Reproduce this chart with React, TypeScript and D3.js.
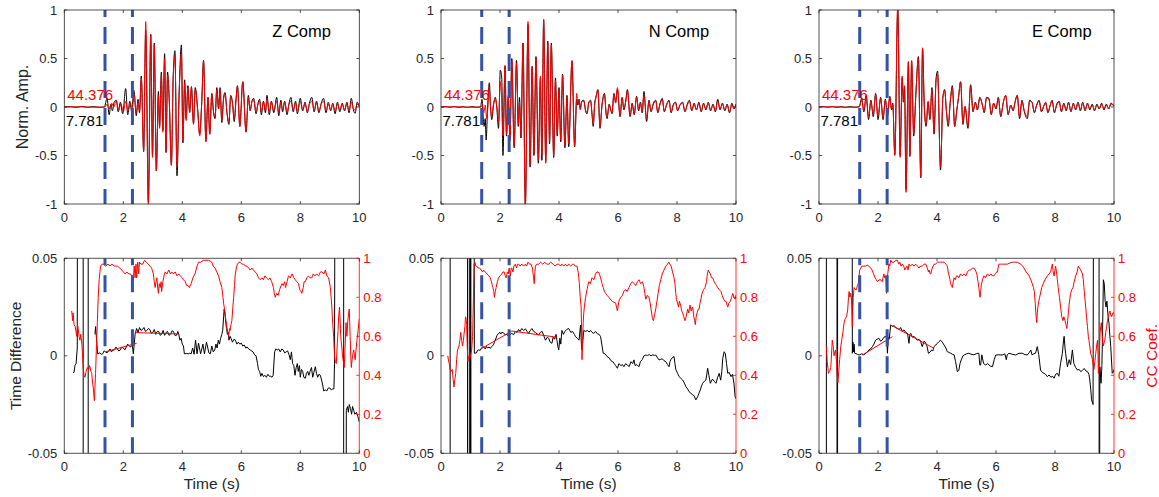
import React from "react";
import * as d3 from "d3";

type P = [number, number];

// ---------- values ----------
const timeTicks = [0, 2, 4, 6, 8, 10];
const ampTicks = [-1, -0.5, 0, 0.5, 1];
const tdTicks = [-0.05, 0, 0.05];
const ccTicks = [0, 0.2, 0.4, 0.6, 0.8, 1];
const pickTimes = [1.38, 2.31];
const compNames = ["Z Comp", "N Comp", "E Comp"];
const synMaxLabel = "44.376";
const obsMaxLabel = "7.781";

// observed (black) and synthetic (red) waveforms, turning points [t, amp]
const zObs: P[] = [[0,0],[0.2,0.004],[0.4,-0.004],[0.6,0.005],[0.8,-0.003],[1.0,0.004],[1.2,-0.004],[1.36,0.003],[1.45,0.09],[1.52,-0.08],[1.58,0.03],[1.63,-0.04],[1.69,0.05],[1.76,0.07],[1.83,-0.05],[1.9,0.05],[1.98,-0.07],[2.08,0.19],[2.15,-0.08],[2.22,0.06],[2.28,-0.04],[2.36,0.17],[2.44,-0.09],[2.5,0.08],[2.55,-0.06],[2.61,0.32],[2.69,-0.46],[2.76,0.79],[2.85,-0.98],[2.93,0.75],[2.99,-0.5],[3.05,0.66],[3.12,-0.66],[3.19,0.16],[3.23,-0.2],[3.29,0.36],[3.34,-0.24],[3.4,0.55],[3.45,-0.47],[3.5,0.36],[3.56,0.06],[3.63,-0.6],[3.69,0.3],[3.75,0.58],[3.82,-0.71],[3.89,0.12],[3.97,0.64],[4.02,-0.37],[4.08,0.28],[4.13,-0.12],[4.19,0.22],[4.25,-0.05],[4.31,0.21],[4.38,-0.17],[4.44,0.2],[4.52,-0.02],[4.59,-0.28],[4.66,0.06],[4.72,0.48],[4.8,-0.35],[4.87,0.1],[4.93,-0.28],[5.0,0.14],[5.06,-0.06],[5.11,-0.12],[5.17,0.2],[5.23,-0.02],[5.28,0.2],[5.34,-0.16],[5.4,0.1],[5.45,0.15],[5.52,-0.08],[5.58,-0.18],[5.64,0.12],[5.7,0.05],[5.76,-0.15],[5.82,0.08],[5.87,0.22],[5.95,-0.2],[6.05,0.26],[6.16,-0.26],[6.24,0.12],[6.3,-0.04],[6.36,0.06],[6.42,0.09],[6.5,-0.07],[6.56,0.03],[6.62,0.08],[6.68,-0.08],[6.75,0.06],[6.82,-0.06],[6.87,0.12],[6.95,-0.08],[7.02,0.06],[7.1,-0.06],[7.2,0.1],[7.27,-0.09],[7.34,0.07],[7.4,-0.05],[7.47,0.06],[7.55,-0.08],[7.62,0.04],[7.68,0.1],[7.76,-0.05],[7.84,0.06],[7.9,-0.07],[8.0,0.09],[8.08,-0.04],[8.16,0.05],[8.24,-0.06],[8.31,0.04],[8.39,0.1],[8.47,-0.05],[8.55,0.06],[8.63,-0.06],[8.71,0.04],[8.79,0.09],[8.87,-0.06],[8.95,0.05],[9.03,-0.04],[9.1,0.04],[9.18,-0.07],[9.26,0.05],[9.34,-0.05],[9.42,0.04],[9.5,-0.04],[9.58,0.05],[9.65,-0.06],[9.73,0.09],[9.8,-0.03],[9.86,-0.065],[9.93,0.05],[10,0.0]];
const zSyn: P[] = [[0,0],[0.5,0.002],[1.0,-0.002],[1.38,0.0],[1.45,0.03],[1.52,-0.02],[1.6,0.04],[1.68,0.0],[1.76,0.07],[1.84,-0.03],[1.92,0.03],[2.0,-0.05],[2.08,0.06],[2.16,-0.04],[2.24,0.04],[2.3,-0.03],[2.37,0.12],[2.44,-0.06],[2.5,0.05],[2.55,-0.04],[2.61,0.3],[2.69,-0.45],[2.76,0.88],[2.85,-1.03],[2.93,0.74],[2.99,-0.52],[3.05,0.64],[3.12,-0.66],[3.19,0.12],[3.23,-0.22],[3.29,0.33],[3.34,-0.26],[3.4,0.5],[3.45,-0.45],[3.5,0.33],[3.56,0.04],[3.63,-0.6],[3.69,0.28],[3.75,0.52],[3.82,-0.62],[3.89,0.1],[3.97,0.55],[4.02,-0.35],[4.08,0.25],[4.13,-0.14],[4.19,0.2],[4.25,-0.06],[4.31,0.2],[4.38,-0.18],[4.44,0.18],[4.52,-0.03],[4.59,-0.3],[4.66,0.05],[4.72,0.47],[4.8,-0.36],[4.87,0.1],[4.93,-0.28],[5.0,0.13],[5.06,-0.05],[5.11,-0.1],[5.17,0.18],[5.23,-0.02],[5.28,0.18],[5.34,-0.14],[5.4,0.08],[5.45,0.13],[5.52,-0.07],[5.58,-0.15],[5.64,0.1],[5.7,0.04],[5.76,-0.13],[5.82,0.06],[5.87,0.21],[5.95,-0.2],[6.05,0.26],[6.16,-0.25],[6.24,0.1],[6.3,-0.03],[6.36,0.05],[6.42,0.07],[6.5,-0.05],[6.56,0.02],[6.62,0.06],[6.68,-0.05],[6.75,0.05],[6.82,-0.04],[6.87,0.08],[6.95,-0.05],[7.02,0.05],[7.1,-0.04],[7.2,0.06],[7.27,-0.06],[7.34,0.05],[7.4,-0.03],[7.47,0.05],[7.55,-0.05],[7.62,0.03],[7.68,0.06],[7.76,-0.03],[7.84,0.04],[7.9,-0.04],[8.0,0.06],[8.08,-0.03],[8.16,0.03],[8.24,-0.04],[8.31,0.03],[8.39,0.06],[8.47,-0.03],[8.55,0.04],[8.63,-0.04],[8.71,0.03],[8.79,0.06],[8.87,-0.04],[8.95,0.03],[9.03,-0.03],[9.1,0.03],[9.18,-0.04],[9.26,0.03],[9.34,-0.03],[9.42,0.03],[9.5,-0.03],[9.58,0.03],[9.65,-0.04],[9.73,0.05],[9.8,-0.02],[9.86,-0.03],[9.93,0.03],[10,0.01]];

const nObs: P[] = [[0,0],[0.15,0.004],[0.3,-0.003],[0.45,0.004],[0.6,-0.004],[0.75,0.003],[0.9,-0.004],[1.05,0.004],[1.2,-0.003],[1.34,0.002],[1.39,0.08],[1.43,-0.1],[1.46,-0.2],[1.5,-0.12],[1.53,-0.34],[1.58,0.0],[1.64,0.25],[1.68,0.0],[1.72,-0.13],[1.78,0.02],[1.84,0.1],[1.89,0.0],[1.95,-0.22],[2.01,0.38],[2.06,0.3],[2.1,-0.5],[2.17,0.42],[2.22,-0.3],[2.28,0.1],[2.34,-0.32],[2.4,0.5],[2.48,-0.42],[2.56,0.48],[2.62,-0.2],[2.66,0.1],[2.71,-0.32],[2.78,0.66],[2.86,-1.0],[2.95,0.85],[3.02,-0.62],[3.09,0.42],[3.15,-0.5],[3.22,0.52],[3.3,-0.58],[3.37,0.3],[3.42,-0.55],[3.48,0.9],[3.55,-0.56],[3.62,0.68],[3.68,-0.38],[3.74,0.66],[3.82,-0.52],[3.88,0.3],[3.94,-0.3],[4.0,0.2],[4.06,-0.36],[4.12,0.34],[4.2,-0.42],[4.27,0.12],[4.33,-0.41],[4.44,0.47],[4.53,-0.41],[4.6,0.08],[4.64,0.02],[4.68,0.08],[4.72,-0.02],[4.77,0.06],[4.84,0.07],[4.9,-0.04],[4.95,-0.07],[5.01,0.05],[5.07,0.07],[5.12,-0.08],[5.16,-0.2],[5.21,0.04],[5.25,0.1],[5.32,0.18],[5.39,-0.22],[5.46,0.03],[5.54,0.14],[5.6,-0.08],[5.63,-0.12],[5.7,0.03],[5.76,-0.04],[5.8,-0.07],[5.86,0.14],[5.92,0.05],[5.98,0.18],[6.07,-0.1],[6.14,0.1],[6.2,-0.03],[6.26,0.06],[6.32,0.18],[6.41,-0.1],[6.48,0.04],[6.55,-0.08],[6.63,0.11],[6.7,-0.04],[6.76,0.05],[6.82,-0.06],[6.88,0.16],[6.97,-0.15],[7.05,0.07],[7.12,-0.05],[7.2,0.04],[7.28,0.07],[7.35,-0.06],[7.42,0.03],[7.5,0.09],[7.57,-0.05],[7.65,0.03],[7.73,0.07],[7.8,-0.06],[7.88,0.03],[7.95,0.05],[8.02,-0.04],[8.1,0.02],[8.19,0.05],[8.27,-0.05],[8.35,0.03],[8.42,0.07],[8.5,-0.04],[8.58,0.04],[8.66,-0.03],[8.74,0.05],[8.82,-0.05],[8.9,0.04],[8.98,-0.03],[9.06,0.05],[9.14,-0.04],[9.22,0.03],[9.3,-0.05],[9.38,0.08],[9.46,-0.03],[9.54,0.04],[9.62,-0.04],[9.7,0.03],[9.78,-0.06],[9.86,0.04],[9.93,-0.02],[10,0.03]];
const nSyn: P[] = [[0,0],[0.5,0.002],[1.0,-0.002],[1.36,0.0],[1.4,0.03],[1.45,-0.06],[1.5,0.02],[1.55,-0.12],[1.6,0.05],[1.63,0.2],[1.68,0.0],[1.72,-0.1],[1.78,0.03],[1.84,0.09],[1.9,-0.02],[1.95,-0.15],[2.01,0.26],[2.05,0.12],[2.1,-0.3],[2.17,0.43],[2.22,-0.28],[2.28,0.12],[2.34,-0.35],[2.4,0.48],[2.48,-0.4],[2.56,0.45],[2.62,-0.18],[2.66,0.05],[2.71,-0.3],[2.78,0.65],[2.86,-1.05],[2.95,0.88],[3.02,-0.6],[3.09,0.4],[3.15,-0.48],[3.22,0.5],[3.3,-0.55],[3.37,0.32],[3.42,-0.5],[3.48,0.9],[3.55,-0.58],[3.62,0.66],[3.68,-0.36],[3.74,0.64],[3.82,-0.5],[3.88,0.28],[3.94,-0.28],[4.0,0.18],[4.06,-0.34],[4.12,0.33],[4.2,-0.4],[4.27,0.1],[4.33,-0.38],[4.44,0.48],[4.53,-0.4],[4.6,0.14],[4.64,0.03],[4.68,0.07],[4.72,-0.03],[4.77,0.05],[4.84,0.06],[4.9,-0.03],[4.95,-0.06],[5.01,0.04],[5.07,0.06],[5.12,-0.07],[5.16,-0.18],[5.21,0.03],[5.25,0.09],[5.32,0.17],[5.39,-0.2],[5.46,0.02],[5.54,0.13],[5.6,-0.07],[5.63,-0.1],[5.7,0.02],[5.76,-0.03],[5.8,-0.06],[5.86,0.13],[5.92,0.04],[5.98,0.2],[6.07,-0.09],[6.14,0.09],[6.2,-0.02],[6.26,0.05],[6.32,0.16],[6.41,-0.09],[6.48,0.03],[6.55,-0.07],[6.63,0.1],[6.7,-0.03],[6.76,0.04],[6.82,-0.05],[6.88,0.12],[6.97,-0.12],[7.05,0.06],[7.12,-0.04],[7.2,0.03],[7.28,0.06],[7.35,-0.05],[7.42,0.02],[7.5,0.08],[7.57,-0.04],[7.65,0.02],[7.73,0.06],[7.8,-0.05],[7.88,0.02],[7.95,0.04],[8.02,-0.03],[8.1,0.02],[8.19,0.04],[8.27,-0.04],[8.35,0.02],[8.42,0.06],[8.5,-0.03],[8.58,0.03],[8.66,-0.03],[8.74,0.04],[8.82,-0.04],[8.9,0.03],[8.98,-0.02],[9.06,0.04],[9.14,-0.03],[9.22,0.02],[9.3,-0.04],[9.38,0.06],[9.46,-0.02],[9.54,0.03],[9.62,-0.03],[9.7,0.02],[9.78,-0.05],[9.86,0.03],[9.93,-0.02],[10,0.03]];

const eObs: P[] = [[0,0],[0.15,0.004],[0.3,-0.003],[0.45,0.004],[0.6,-0.004],[0.75,0.003],[0.9,-0.004],[1.05,0.004],[1.2,-0.003],[1.36,0.002],[1.45,0.09],[1.52,-0.05],[1.6,0.12],[1.68,-0.13],[1.76,0.07],[1.84,-0.1],[1.92,0.14],[2.0,-0.13],[2.09,0.1],[2.17,-0.13],[2.25,0.08],[2.32,-0.1],[2.4,0.11],[2.46,-0.03],[2.5,0.04],[2.57,-0.49],[2.67,1.02],[2.75,-0.5],[2.82,0.3],[2.86,0.05],[2.9,0.2],[2.95,-0.85],[3.03,0.46],[3.08,-0.51],[3.14,0.47],[3.21,-0.3],[3.28,0.1],[3.37,0.52],[3.45,-0.73],[3.51,0.6],[3.57,0.0],[3.63,-0.2],[3.7,0.05],[3.76,-0.13],[3.83,0.2],[3.9,-0.28],[3.97,0.3],[4.02,0.37],[4.12,-0.65],[4.2,0.1],[4.26,0.18],[4.32,-0.05],[4.38,-0.2],[4.45,0.05],[4.52,0.22],[4.6,-0.2],[4.67,-0.04],[4.73,0.1],[4.8,0.26],[4.88,-0.18],[4.95,0.0],[5.05,-0.22],[5.14,0.23],[5.22,-0.05],[5.3,0.05],[5.37,-0.03],[5.45,0.1],[5.54,0.02],[5.6,-0.06],[5.68,0.1],[5.76,0.09],[5.84,-0.08],[5.92,0.04],[6.0,-0.02],[6.08,0.1],[6.16,-0.1],[6.25,0.05],[6.33,0.12],[6.41,-0.08],[6.5,0.02],[6.58,-0.04],[6.65,0.06],[6.72,0.12],[6.8,-0.12],[6.88,0.07],[6.96,-0.05],[7.06,-0.12],[7.14,0.07],[7.22,0.05],[7.3,-0.06],[7.38,0.02],[7.46,0.07],[7.54,-0.05],[7.62,0.01],[7.68,0.05],[7.76,-0.06],[7.84,0.02],[7.9,0.07],[7.98,-0.06],[8.06,0.03],[8.14,0.06],[8.22,-0.05],[8.3,0.04],[8.38,-0.04],[8.46,0.05],[8.54,-0.05],[8.62,0.04],[8.7,-0.03],[8.78,0.05],[8.86,-0.04],[8.94,0.05],[9.02,-0.04],[9.1,0.04],[9.18,-0.03],[9.26,0.03],[9.34,-0.04],[9.42,0.03],[9.5,-0.02],[9.58,0.04],[9.66,-0.03],[9.74,0.03],[9.82,-0.02],[9.9,0.04],[10,0.01]];
const eSyn: P[] = [[0,0],[0.5,0.002],[1.0,-0.002],[1.36,0.0],[1.45,0.07],[1.52,-0.04],[1.6,0.1],[1.68,-0.1],[1.76,0.06],[1.84,-0.08],[1.92,0.12],[2.0,-0.1],[2.09,0.09],[2.17,-0.11],[2.25,0.07],[2.32,-0.08],[2.4,0.1],[2.46,-0.02],[2.5,0.03],[2.57,-0.5],[2.67,1.05],[2.75,-0.52],[2.82,0.32],[2.86,0.06],[2.9,0.22],[2.95,-0.88],[3.03,0.47],[3.08,-0.5],[3.14,0.48],[3.21,-0.28],[3.28,0.12],[3.37,0.5],[3.45,-0.72],[3.51,0.61],[3.57,0.02],[3.63,-0.18],[3.7,0.06],[3.76,-0.12],[3.83,0.18],[3.9,-0.26],[3.97,0.28],[4.02,0.33],[4.12,-0.62],[4.2,0.1],[4.26,0.17],[4.32,-0.04],[4.38,-0.18],[4.45,0.06],[4.52,0.2],[4.6,-0.2],[4.67,-0.03],[4.73,0.1],[4.8,0.26],[4.88,-0.17],[4.95,0.01],[5.05,-0.2],[5.14,0.22],[5.22,-0.04],[5.3,0.04],[5.37,-0.03],[5.45,0.09],[5.54,0.02],[5.6,-0.05],[5.68,0.09],[5.76,0.08],[5.84,-0.07],[5.92,0.04],[6.0,-0.02],[6.08,0.09],[6.16,-0.09],[6.25,0.05],[6.33,0.12],[6.41,-0.07],[6.5,0.02],[6.58,-0.03],[6.65,0.05],[6.72,0.12],[6.8,-0.1],[6.88,0.06],[6.96,-0.04],[7.06,-0.1],[7.14,0.06],[7.22,0.05],[7.3,-0.05],[7.38,0.02],[7.46,0.06],[7.54,-0.04],[7.62,0.01],[7.68,0.04],[7.76,-0.05],[7.84,0.02],[7.9,0.06],[7.98,-0.05],[8.06,0.02],[8.14,0.05],[8.22,-0.04],[8.3,0.03],[8.38,-0.03],[8.46,0.04],[8.54,-0.04],[8.62,0.03],[8.7,-0.02],[8.78,0.04],[8.86,-0.03],[8.94,0.04],[9.02,-0.03],[9.1,0.03],[9.18,-0.02],[9.26,0.02],[9.34,-0.03],[9.42,0.02],[9.5,-0.02],[9.58,0.03],[9.66,-0.02],[9.74,0.02],[9.82,-0.02],[9.9,0.03],[10,0.01]];

// time difference (black, left axis); NaN breaks the line, |v| > 0.05 runs off the axes
const zTd: P[] = [[0.3,-0.0086],[0.33,-0.0085],[0.36,-0.005],[0.4,-0.004],[0.44,0.004],[0.45,0.2],[0.64,0.2],[0.64,-0.2],[0.81,-0.2],[0.81,0.2],[0.82,NaN],[1.04,0.011],[1.06,0.015],[1.09,0.009],[1.13,0.001],[1.2,0.0015],[1.25,0.0008],[1.3,0.001],[1.35,0.0025],[1.4,0.002],[1.45,0.0015],[1.5,0.0025],[1.55,0.0035],[1.6,0.002],[1.65,0.003],[1.7,0.003],[1.75,0.0045],[1.8,0.0035],[1.85,0.0025],[1.9,0.003],[1.95,0.0045],[2.0,0.004],[2.05,0.003],[2.1,0.0045],[2.15,0.006],[2.2,0.005],[2.25,0.0045],[2.3,0.006],[2.34,0.001],[2.37,0.006],[2.4,0.011],[2.45,0.014],[2.5,0.012],[2.55,0.0145],[2.6,0.013],[2.65,0.0135],[2.7,0.0145],[2.75,0.0125],[2.8,0.013],[2.85,0.014],[2.9,0.0135],[2.95,0.0115],[3.0,0.012],[3.05,0.0135],[3.1,0.011],[3.15,0.0125],[3.2,0.0125],[3.25,0.0105],[3.3,0.011],[3.35,0.013],[3.4,0.0105],[3.45,0.012],[3.5,0.0125],[3.55,0.0105],[3.6,0.011],[3.65,0.0128],[3.7,0.0125],[3.75,0.0105],[3.8,0.0105],[3.85,0.0125],[3.88,0.011],[3.92,0.008],[3.96,0.009],[4.0,0.006],[4.04,0.005],[4.07,0.001],[4.15,0.0012],[4.2,0.001],[4.25,0.0013],[4.3,0.001],[4.35,0.004],[4.4,0.0008],[4.45,0.008],[4.5,0.001],[4.55,0.0065],[4.62,0.001],[4.67,0.004],[4.7,0.006],[4.75,0.001],[4.82,0.007],[4.9,0.0015],[4.95,0.001],[5.0,0.005],[5.05,0.002],[5.1,0.003],[5.14,0.006],[5.18,0.004],[5.22,0.008],[5.26,0.006],[5.3,0.009],[5.34,0.011],[5.37,0.013],[5.4,0.02],[5.42,0.024],[5.45,0.021],[5.48,0.016],[5.5,0.014],[5.53,0.011],[5.56,0.012],[5.58,0.008],[5.62,0.01],[5.65,0.009],[5.7,0.007],[5.75,0.0085],[5.8,0.008],[5.85,0.006],[5.9,0.007],[5.95,0.006],[6.0,0.0065],[6.05,0.005],[6.1,0.0055],[6.15,0.004],[6.2,0.0045],[6.25,0.0035],[6.3,0.003],[6.35,0.0025],[6.4,0.002],[6.45,0.0005],[6.5,0.0],[6.55,-0.004],[6.58,-0.007],[6.62,-0.008],[6.66,-0.0105],[6.7,-0.009],[6.75,-0.0107],[6.8,-0.01],[6.85,-0.011],[6.9,-0.0095],[6.95,-0.0105],[7.0,-0.0105],[7.04,-0.011],[7.08,-0.01],[7.13,0.002],[7.17,0.0035],[7.22,0.003],[7.27,0.0035],[7.32,0.002],[7.37,0.0035],[7.42,0.003],[7.47,0.0015],[7.52,0.002],[7.57,0.0025],[7.62,0.0005],[7.66,-0.002],[7.7,0.002],[7.74,-0.004],[7.78,-0.005],[7.82,-0.01],[7.86,-0.006],[7.9,-0.004],[7.93,-0.008],[7.97,-0.005],[8.0,-0.011],[8.04,-0.007],[8.08,-0.008],[8.12,-0.011],[8.17,-0.0115],[8.21,-0.009],[8.25,-0.008],[8.29,-0.01],[8.33,-0.008],[8.38,-0.006],[8.42,-0.011],[8.46,-0.0085],[8.51,-0.0056],[8.55,-0.009],[8.59,-0.011],[8.63,-0.0095],[8.68,-0.01],[8.73,-0.013],[8.76,-0.015],[8.79,-0.018],[8.84,-0.0175],[8.9,-0.018],[8.95,-0.0165],[9.0,-0.0165],[9.05,-0.0175],[9.1,-0.017],[9.14,-0.017],[9.16,-0.004],[9.19,0.2],[9.47,0.2],[9.47,-0.2],[9.55,-0.2],[9.56,-0.028],[9.6,-0.026],[9.63,-0.029],[9.66,-0.025],[9.7,-0.027],[9.74,-0.03],[9.77,-0.026],[9.81,-0.028],[9.85,-0.03],[9.9,-0.029],[9.95,-0.031],[10,-0.034]];
const nTd: P[] = [[0.31,-0.2],[0.31,0.2],[0.32,NaN],[0.9,-0.2],[0.9,0.2],[0.91,NaN],[0.96,-0.2],[0.96,0.2],[0.97,NaN],[1.0,-0.2],[1.0,0.2],[1.01,-0.2],[1.01,0.2],[1.12,0.2],[1.13,0.0013],[1.2,0.0015],[1.24,0.0028],[1.28,0.003],[1.33,0.0028],[1.37,0.004],[1.4,0.0045],[1.44,0.0047],[1.5,0.0035],[1.54,0.0048],[1.58,0.004],[1.63,0.0045],[1.67,0.0038],[1.72,0.0048],[1.78,0.0056],[1.81,0.007],[1.84,0.008],[1.9,0.0105],[1.95,0.0115],[2.0,0.012],[2.03,0.0112],[2.06,0.012],[2.12,0.0118],[2.18,0.0107],[2.24,0.011],[2.29,0.0098],[2.35,0.011],[2.4,0.0115],[2.46,0.0108],[2.52,0.0124],[2.58,0.012],[2.63,0.0135],[2.68,0.0125],[2.74,0.014],[2.8,0.013],[2.86,0.0138],[2.92,0.0125],[2.97,0.0115],[3.02,0.0128],[3.08,0.014],[3.14,0.0125],[3.2,0.012],[3.26,0.0112],[3.31,0.0107],[3.37,0.012],[3.43,0.0125],[3.48,0.0105],[3.54,0.008],[3.6,0.0095],[3.65,0.009],[3.7,0.007],[3.76,0.0064],[3.8,0.0095],[3.85,0.0085],[3.9,0.011],[3.93,0.008],[3.96,0.005],[3.99,0.003],[4.03,0.009],[4.06,0.006],[4.1,0.013],[4.15,0.011],[4.2,0.0125],[4.26,0.0135],[4.33,0.014],[4.4,0.012],[4.46,0.0125],[4.52,0.011],[4.56,0.0098],[4.62,0.009],[4.68,0.008],[4.73,0.0158],[4.76,0.006],[4.78,0.003],[4.81,0.008],[4.84,0.013],[4.9,0.0125],[4.96,0.013],[5.02,0.0122],[5.07,0.013],[5.12,0.012],[5.18,0.0115],[5.24,0.0125],[5.3,0.0113],[5.36,0.011],[5.41,0.0098],[5.46,0.005],[5.5,0.0013],[5.56,0.001],[5.63,-0.0004],[5.7,-0.001],[5.76,-0.0025],[5.82,-0.003],[5.86,-0.0038],[5.92,-0.005],[5.98,-0.0064],[6.03,-0.004],[6.1,-0.005],[6.15,-0.0045],[6.2,-0.0056],[6.26,-0.004],[6.32,-0.0048],[6.38,-0.0055],[6.44,-0.003],[6.5,-0.004],[6.54,-0.0021],[6.58,-0.005],[6.64,-0.0045],[6.71,-0.0056],[6.76,-0.003],[6.82,-0.002],[6.88,0.0],[6.94,0.0004],[7.0,0.0002],[7.06,0.0006],[7.12,0.0],[7.18,0.0005],[7.24,0.0002],[7.28,0.0004],[7.34,-0.001],[7.39,-0.0021],[7.45,-0.0018],[7.5,-0.0015],[7.56,-0.0025],[7.62,-0.003],[7.68,-0.0045],[7.73,-0.0056],[7.76,-0.003],[7.79,-0.002],[7.84,-0.001],[7.9,-0.0004],[7.93,-0.004],[7.96,-0.007],[8.02,-0.009],[8.07,-0.0107],[8.13,-0.0115],[8.19,-0.0124],[8.25,-0.014],[8.3,-0.0158],[8.36,-0.017],[8.41,-0.0184],[8.47,-0.0192],[8.53,-0.02],[8.58,-0.0205],[8.64,-0.0226],[8.7,-0.021],[8.75,-0.019],[8.79,-0.0175],[8.83,-0.0155],[8.87,-0.0141],[8.93,-0.013],[8.98,-0.0124],[9.04,-0.0064],[9.08,-0.01],[9.13,-0.0141],[9.2,-0.012],[9.26,-0.013],[9.32,-0.0141],[9.38,-0.011],[9.43,-0.009],[9.48,-0.0125],[9.52,-0.008],[9.55,-0.0013],[9.6,0.0021],[9.64,0.001],[9.68,-0.004],[9.72,-0.009],[9.77,-0.0085],[9.83,-0.0107],[9.88,-0.0095],[9.93,-0.014],[9.97,-0.021],[10,-0.022]];
const eTd: P[] = [[0.25,-0.2],[0.25,0.2],[0.26,NaN],[0.61,-0.2],[0.61,0.2],[0.63,0.2],[0.63,-0.2],[0.64,NaN],[1.12,0.2],[1.13,0.0013],[1.15,0.007],[1.17,0.002],[1.19,0.006],[1.21,0.0013],[1.3,0.0008],[1.36,0.0004],[1.45,0.001],[1.52,0.0005],[1.58,0.0013],[1.64,0.002],[1.69,0.003],[1.75,0.0035],[1.81,0.0047],[1.86,0.006],[1.92,0.008],[1.97,0.0085],[2.03,0.009],[2.09,0.0075],[2.14,0.008],[2.2,0.0095],[2.26,0.01],[2.29,0.009],[2.32,0.0013],[2.35,0.0095],[2.38,0.0085],[2.43,0.0158],[2.5,0.015],[2.55,0.0155],[2.6,0.0145],[2.66,0.014],[2.72,0.0135],[2.77,0.0145],[2.82,0.0125],[2.88,0.0133],[2.94,0.012],[3.0,0.0115],[3.05,0.0064],[3.08,0.011],[3.11,0.0115],[3.17,0.0095],[3.22,0.01],[3.28,0.009],[3.33,0.008],[3.39,0.0085],[3.44,0.0075],[3.5,0.0047],[3.56,0.0075],[3.6,0.007],[3.66,0.005],[3.71,0.0013],[3.76,0.0018],[3.82,0.003],[3.86,0.0025],[3.9,0.0047],[3.96,0.0055],[4.01,0.0064],[4.06,0.0072],[4.12,0.008],[4.18,0.007],[4.24,0.0055],[4.3,0.004],[4.35,0.0021],[4.4,0.0018],[4.46,0.0013],[4.52,0.0008],[4.58,0.0005],[4.63,-0.003],[4.69,-0.0081],[4.74,-0.0075],[4.78,-0.004],[4.82,-0.0021],[4.88,0.0],[4.92,0.0004],[5.0,0.001],[5.08,0.0013],[5.15,0.0008],[5.25,0.0005],[5.35,0.0012],[5.42,0.0013],[5.45,-0.0047],[5.48,-0.0047],[5.52,0.0005],[5.58,-0.004],[5.65,-0.0047],[5.72,-0.004],[5.8,-0.0052],[5.88,-0.0056],[5.94,-0.002],[5.99,0.0004],[6.1,0.0005],[6.21,0.0004],[6.3,0.001],[6.35,-0.002],[6.38,0.0005],[6.44,0.0013],[6.55,0.0008],[6.67,0.0004],[6.78,0.0013],[6.89,0.0013],[6.98,0.0006],[7.06,0.0004],[7.12,0.0015],[7.18,0.003],[7.22,0.0005],[7.28,0.001],[7.34,0.0013],[7.4,0.0047],[7.45,0.0005],[7.51,-0.0073],[7.57,-0.0085],[7.63,-0.009],[7.68,-0.0095],[7.74,-0.0107],[7.8,-0.0098],[7.86,-0.011],[7.92,-0.0105],[7.97,-0.0115],[8.02,-0.0095],[8.08,-0.009],[8.13,-0.0105],[8.19,-0.0038],[8.25,0.0013],[8.29,0.008],[8.31,0.01],[8.34,0.004],[8.36,0.0013],[8.42,-0.0056],[8.48,-0.002],[8.53,-0.0045],[8.59,0.003],[8.64,-0.004],[8.7,-0.006],[8.76,-0.0073],[8.82,-0.007],[8.87,-0.0081],[8.93,-0.0075],[8.99,-0.0065],[9.05,-0.0078],[9.1,-0.0081],[9.15,-0.0095],[9.18,-0.0124],[9.21,-0.017],[9.24,-0.0226],[9.29,-0.025],[9.32,0.2],[9.49,0.2],[9.5,-0.2],[9.52,-0.0056],[9.56,-0.0141],[9.59,-0.005],[9.61,0.01],[9.64,0.039],[9.67,0.037],[9.7,0.028],[9.73,0.025],[9.76,0.028],[9.8,0.02],[9.83,0.0167],[9.86,0.01],[9.89,0.0047],[9.94,-0.009],[9.97,-0.0085],[10,-0.007]];

// cross-correlation coefficient (red, right axis)
const zCc: P[] = [[0.25,0.73],[0.27,0.7],[0.28,0.68],[0.3,0.72],[0.33,0.66],[0.37,0.65],[0.4,0.62],[0.42,0.6],[0.45,0.66],[0.47,0.64],[0.5,0.6],[0.53,0.58],[0.56,0.61],[0.6,0.55],[0.64,0.44],[0.67,0.4],[0.7,0.39],[0.74,0.42],[0.78,0.44],[0.82,0.43],[0.86,0.45],[0.9,0.42],[0.93,0.41],[0.96,0.36],[0.98,0.34],[1.02,0.27],[1.06,0.41],[1.09,0.55],[1.12,0.67],[1.15,0.8],[1.18,0.89],[1.23,0.96],[1.28,0.97],[1.32,0.97],[1.4,0.96],[1.48,0.97],[1.55,0.96],[1.61,0.97],[1.7,0.96],[1.8,0.96],[1.88,0.95],[1.95,0.94],[2.0,0.93],[2.06,0.92],[2.12,0.93],[2.18,0.92],[2.24,0.92],[2.28,0.91],[2.31,0.88],[2.34,0.89],[2.37,0.96],[2.4,0.9],[2.43,0.97],[2.45,0.9],[2.49,0.98],[2.52,0.92],[2.55,0.98],[2.6,0.97],[2.66,0.97],[2.72,0.99],[2.78,0.98],[2.85,0.97],[2.9,0.96],[2.96,0.95],[3.02,0.92],[3.05,0.88],[3.08,0.85],[3.11,0.88],[3.14,0.9],[3.17,0.84],[3.19,0.82],[3.22,0.87],[3.25,0.85],[3.28,0.88],[3.3,0.83],[3.34,0.88],[3.38,0.91],[3.42,0.93],[3.48,0.92],[3.54,0.94],[3.6,0.92],[3.64,0.93],[3.7,0.92],[3.76,0.93],[3.82,0.91],[3.88,0.92],[3.93,0.91],[4.0,0.9],[4.04,0.89],[4.1,0.88],[4.15,0.86],[4.2,0.86],[4.24,0.85],[4.3,0.87],[4.36,0.9],[4.43,0.92],[4.5,0.96],[4.55,0.98],[4.62,0.98],[4.72,0.99],[4.8,0.99],[4.89,0.99],[4.95,0.985],[5.0,0.98],[5.05,0.96],[5.11,0.95],[5.17,0.93],[5.23,0.91],[5.28,0.88],[5.34,0.85],[5.38,0.8],[5.4,0.77],[5.45,0.72],[5.48,0.68],[5.51,0.65],[5.54,0.62],[5.57,0.6],[5.6,0.64],[5.62,0.63],[5.65,0.66],[5.68,0.68],[5.71,0.74],[5.74,0.8],[5.77,0.86],[5.79,0.91],[5.83,0.95],[5.87,0.97],[5.92,0.98],[5.96,0.98],[6.02,0.97],[6.08,0.97],[6.14,0.96],[6.19,0.96],[6.25,0.95],[6.3,0.94],[6.36,0.95],[6.41,0.94],[6.47,0.93],[6.53,0.92],[6.58,0.9],[6.64,0.89],[6.7,0.9],[6.75,0.89],[6.8,0.91],[6.85,0.9],[6.92,0.89],[6.97,0.9],[7.03,0.88],[7.09,0.85],[7.12,0.82],[7.15,0.8],[7.2,0.82],[7.25,0.81],[7.3,0.84],[7.35,0.86],[7.38,0.87],[7.42,0.86],[7.47,0.88],[7.5,0.85],[7.55,0.88],[7.6,0.91],[7.66,0.9],[7.72,0.92],[7.78,0.9],[7.83,0.89],[7.88,0.88],[7.94,0.87],[7.98,0.84],[8.02,0.83],[8.05,0.82],[8.1,0.85],[8.13,0.88],[8.17,0.88],[8.22,0.9],[8.28,0.91],[8.33,0.9],[8.39,0.9],[8.44,0.92],[8.5,0.91],[8.55,0.92],[8.62,0.91],[8.68,0.93],[8.73,0.93],[8.8,0.92],[8.85,0.94],[8.9,0.91],[8.96,0.9],[9.02,0.85],[9.07,0.75],[9.1,0.66],[9.13,0.6],[9.16,0.5],[9.19,0.47],[9.22,0.46],[9.25,0.55],[9.28,0.63],[9.3,0.7],[9.33,0.75],[9.36,0.64],[9.38,0.58],[9.41,0.54],[9.43,0.5],[9.46,0.47],[9.49,0.44],[9.52,0.55],[9.55,0.67],[9.58,0.6],[9.61,0.68],[9.64,0.72],[9.66,0.74],[9.69,0.6],[9.71,0.5],[9.73,0.44],[9.77,0.5],[9.81,0.53],[9.84,0.5],[9.86,0.48],[9.89,0.53],[9.92,0.58],[9.96,0.63],[10,0.69]];
const nCc: P[] = [[0.23,0.5],[0.26,0.47],[0.28,0.46],[0.31,0.43],[0.34,0.42],[0.38,0.43],[0.41,0.38],[0.44,0.34],[0.47,0.38],[0.5,0.41],[0.53,0.48],[0.56,0.53],[0.59,0.54],[0.61,0.55],[0.64,0.58],[0.67,0.62],[0.7,0.58],[0.73,0.55],[0.76,0.58],[0.78,0.61],[0.81,0.65],[0.83,0.7],[0.85,0.69],[0.87,0.66],[0.89,0.55],[0.91,0.47],[0.93,0.49],[0.95,0.5],[0.98,0.49],[1.01,0.51],[1.04,0.53],[1.07,0.6],[1.1,0.8],[1.12,0.97],[1.15,0.98],[1.18,0.96],[1.21,0.96],[1.26,0.95],[1.31,0.95],[1.36,0.94],[1.41,0.93],[1.44,0.94],[1.5,0.93],[1.56,0.92],[1.62,0.91],[1.67,0.9],[1.71,0.88],[1.74,0.86],[1.76,0.85],[1.79,0.83],[1.81,0.8],[1.84,0.83],[1.87,0.85],[1.91,0.88],[1.95,0.9],[2.0,0.91],[2.06,0.92],[2.1,0.93],[2.14,0.93],[2.18,0.91],[2.21,0.9],[2.25,0.93],[2.28,0.92],[2.31,0.95],[2.35,0.91],[2.38,0.95],[2.4,0.95],[2.44,0.93],[2.47,0.96],[2.52,0.97],[2.56,0.95],[2.6,0.97],[2.63,0.97],[2.68,0.96],[2.74,0.97],[2.8,0.96],[2.86,0.97],[2.9,0.96],[2.95,0.98],[3.0,0.97],[3.05,0.97],[3.1,0.95],[3.14,0.9],[3.16,0.87],[3.18,0.92],[3.2,0.96],[3.25,0.97],[3.31,0.97],[3.38,0.98],[3.45,0.97],[3.52,0.98],[3.58,0.97],[3.65,0.97],[3.72,0.98],[3.8,0.97],[3.87,0.96],[3.93,0.97],[3.99,0.97],[4.05,0.96],[4.1,0.97],[4.16,0.96],[4.22,0.97],[4.28,0.96],[4.33,0.97],[4.4,0.96],[4.46,0.97],[4.5,0.97],[4.55,0.96],[4.61,0.96],[4.66,0.92],[4.69,0.87],[4.72,0.8],[4.75,0.75],[4.77,0.6],[4.78,0.48],[4.8,0.58],[4.82,0.67],[4.84,0.72],[4.86,0.75],[4.9,0.8],[4.95,0.84],[5.01,0.88],[5.06,0.87],[5.12,0.9],[5.18,0.89],[5.24,0.92],[5.28,0.93],[5.32,0.93],[5.37,0.92],[5.41,0.9],[5.46,0.87],[5.5,0.85],[5.54,0.83],[5.58,0.82],[5.63,0.81],[5.69,0.8],[5.74,0.79],[5.8,0.78],[5.86,0.775],[5.92,0.77],[5.95,0.75],[5.98,0.73],[6.01,0.76],[6.03,0.78],[6.09,0.8],[6.15,0.81],[6.2,0.83],[6.26,0.84],[6.31,0.83],[6.37,0.85],[6.43,0.87],[6.49,0.88],[6.55,0.87],[6.6,0.86],[6.66,0.88],[6.71,0.89],[6.77,0.87],[6.83,0.88],[6.88,0.85],[6.91,0.82],[6.94,0.79],[6.99,0.81],[7.05,0.8],[7.09,0.77],[7.13,0.73],[7.17,0.69],[7.2,0.68],[7.24,0.71],[7.28,0.74],[7.32,0.78],[7.36,0.82],[7.4,0.86],[7.45,0.89],[7.5,0.92],[7.56,0.94],[7.62,0.96],[7.68,0.97],[7.72,0.98],[7.76,0.97],[7.8,0.96],[7.85,0.93],[7.9,0.9],[7.93,0.87],[7.96,0.82],[7.98,0.79],[8.02,0.77],[8.05,0.75],[8.08,0.78],[8.12,0.76],[8.16,0.73],[8.19,0.72],[8.23,0.7],[8.27,0.68],[8.31,0.7],[8.36,0.74],[8.4,0.72],[8.44,0.76],[8.48,0.73],[8.53,0.75],[8.57,0.7],[8.6,0.68],[8.62,0.66],[8.65,0.7],[8.68,0.72],[8.72,0.74],[8.75,0.74],[8.78,0.77],[8.81,0.79],[8.85,0.82],[8.9,0.84],[8.95,0.85],[9.0,0.88],[9.03,0.92],[9.06,0.94],[9.09,0.93],[9.13,0.92],[9.17,0.9],[9.21,0.9],[9.26,0.88],[9.3,0.87],[9.34,0.86],[9.38,0.85],[9.43,0.84],[9.49,0.83],[9.53,0.81],[9.58,0.79],[9.62,0.78],[9.66,0.78],[9.7,0.76],[9.72,0.75],[9.76,0.77],[9.81,0.78],[9.85,0.8],[9.89,0.82],[9.93,0.8],[9.97,0.79],[10,0.81]];
const eCc: P[] = [[0.25,0.55],[0.28,0.47],[0.32,0.41],[0.36,0.42],[0.4,0.44],[0.45,0.58],[0.48,0.55],[0.51,0.5],[0.54,0.52],[0.56,0.53],[0.6,0.46],[0.62,0.4],[0.64,0.36],[0.67,0.42],[0.7,0.48],[0.74,0.55],[0.77,0.58],[0.81,0.62],[0.85,0.67],[0.89,0.69],[0.93,0.7],[0.97,0.73],[1.0,0.8],[1.02,0.83],[1.05,0.8],[1.07,0.82],[1.1,0.8],[1.13,0.65],[1.16,0.8],[1.19,0.85],[1.23,0.84],[1.27,0.84],[1.3,0.86],[1.33,0.87],[1.36,0.91],[1.38,0.94],[1.42,0.95],[1.45,0.96],[1.52,0.96],[1.58,0.96],[1.64,0.965],[1.69,0.96],[1.75,0.95],[1.8,0.94],[1.85,0.92],[1.9,0.9],[1.94,0.89],[1.98,0.88],[2.04,0.89],[2.09,0.89],[2.14,0.88],[2.17,0.9],[2.2,0.92],[2.23,0.9],[2.26,0.91],[2.29,0.82],[2.31,0.86],[2.33,0.92],[2.37,0.97],[2.4,0.96],[2.43,0.99],[2.48,0.98],[2.54,0.98],[2.6,0.99],[2.66,0.99],[2.7,0.97],[2.74,0.98],[2.78,0.96],[2.82,0.97],[2.87,0.96],[2.91,0.94],[2.94,0.95],[2.98,0.96],[3.02,0.94],[3.05,0.97],[3.1,0.96],[3.16,0.97],[3.22,0.96],[3.28,0.97],[3.34,0.96],[3.39,0.95],[3.44,0.96],[3.5,0.96],[3.56,0.97],[3.62,0.97],[3.67,0.95],[3.71,0.93],[3.73,0.94],[3.77,0.92],[3.79,0.92],[3.82,0.94],[3.84,0.95],[3.9,0.97],[3.95,0.97],[4.02,0.98],[4.08,0.98],[4.12,0.98],[4.18,0.98],[4.24,0.98],[4.3,0.97],[4.35,0.96],[4.38,0.93],[4.41,0.91],[4.44,0.89],[4.46,0.87],[4.49,0.86],[4.52,0.85],[4.55,0.88],[4.58,0.9],[4.62,0.89],[4.66,0.91],[4.69,0.91],[4.74,0.9],[4.8,0.92],[4.86,0.91],[4.92,0.92],[4.98,0.91],[5.03,0.93],[5.09,0.94],[5.14,0.94],[5.2,0.95],[5.25,0.95],[5.3,0.94],[5.35,0.92],[5.39,0.88],[5.42,0.85],[5.44,0.82],[5.46,0.8],[5.48,0.83],[5.5,0.86],[5.54,0.89],[5.59,0.91],[5.64,0.9],[5.71,0.92],[5.77,0.91],[5.83,0.92],[5.88,0.91],[5.93,0.91],[5.98,0.92],[6.02,0.93],[6.05,0.93],[6.08,0.96],[6.1,0.97],[6.16,0.97],[6.21,0.97],[6.3,0.97],[6.38,0.97],[6.46,0.975],[6.55,0.98],[6.63,0.98],[6.72,0.98],[6.78,0.975],[6.84,0.97],[6.9,0.96],[6.95,0.95],[7.02,0.93],[7.08,0.92],[7.12,0.91],[7.18,0.89],[7.23,0.87],[7.27,0.85],[7.3,0.83],[7.33,0.77],[7.36,0.7],[7.38,0.67],[7.4,0.72],[7.42,0.75],[7.45,0.78],[7.48,0.8],[7.52,0.83],[7.55,0.85],[7.6,0.87],[7.66,0.89],[7.74,0.91],[7.8,0.92],[7.85,0.93],[7.88,0.95],[7.91,0.97],[7.94,0.93],[7.97,0.91],[8.0,0.94],[8.02,0.96],[8.05,0.93],[8.08,0.89],[8.11,0.85],[8.15,0.8],[8.19,0.75],[8.23,0.7],[8.27,0.68],[8.3,0.7],[8.34,0.68],[8.37,0.66],[8.4,0.64],[8.43,0.68],[8.47,0.75],[8.5,0.79],[8.53,0.82],[8.57,0.84],[8.61,0.85],[8.65,0.88],[8.7,0.91],[8.75,0.93],[8.79,0.96],[8.83,0.95],[8.87,0.94],[8.9,0.93],[8.93,0.92],[8.96,0.89],[8.98,0.85],[9.01,0.8],[9.04,0.75],[9.07,0.7],[9.1,0.65],[9.13,0.6],[9.15,0.58],[9.18,0.55],[9.21,0.51],[9.24,0.5],[9.27,0.48],[9.3,0.45],[9.32,0.43],[9.35,0.47],[9.38,0.51],[9.41,0.55],[9.44,0.58],[9.46,0.5],[9.47,0.41],[9.5,0.5],[9.53,0.62],[9.55,0.65],[9.57,0.67],[9.6,0.6],[9.64,0.55],[9.67,0.57],[9.69,0.58],[9.72,0.62],[9.75,0.65],[9.78,0.68],[9.81,0.7],[9.84,0.72],[9.86,0.73],[9.89,0.71],[9.92,0.7],[9.96,0.72],[10,0.72]];

// linear fits of the time difference (thin red)
const zFit: P[][] = [[[1.41,0.0021],[2.45,0.0064]],[[2.4,0.0119],[3.87,0.0112]]];
const nFit: P[][] = [[[1.38,0.0038],[2.4,0.0127]],[[2.4,0.0127],[3.93,0.0095]]];
const eFit: P[][] = [[[1.47,0.0004],[2.49,0.0098]],[[2.43,0.0158],[3.9,0.0038]]];

const obsSets = [zObs, nObs, eObs];
const synSets = [zSyn, nSyn, eSyn];
const tdSets = [zTd, nTd, eTd];
const ccSets = [zCc, nCc, eCc];
const fitSets = [zFit, nFit, eFit];

// ---------- layout ----------
const W = 1159;
const H = 497;
const LEFTS = [64.3, 441, 819];
const PW = 295;
const TOP_ROW = { top: 10, bottom: 204 };
const BOT_ROW = { top: 258.3, bottom: 453.3 };
const TITLE_T = [7.05, 7.04, 7.22];
const TL = 3;
const FONT = "'Liberation Sans', Arial, Helvetica, sans-serif";
const AXIS = "#262626";
const RED = "#ff0000";
const BLUE = "#3553a5";
const TICK_FS = 13;
const LABEL_FS = 15.5;

const fmt = (v: number) => String(v);

function XTicks({ x, top, bottom }: { x: d3.ScaleLinear<number, number>; top: number; bottom: number }) {
  return (
    <g>
      {timeTicks.map((t) => (
        <g key={t}>
          <line x1={x(t)} x2={x(t)} y1={bottom} y2={bottom - TL} stroke={AXIS} strokeWidth={0.8} />
          <line x1={x(t)} x2={x(t)} y1={top} y2={top + TL} stroke={AXIS} strokeWidth={0.8} />
          <text x={x(t)} y={bottom + 18} textAnchor="middle" fontSize={TICK_FS} fill={AXIS}>
            {fmt(t)}
          </text>
        </g>
      ))}
    </g>
  );
}

function PickLines({ x, top, bottom }: { x: d3.ScaleLinear<number, number>; top: number; bottom: number }) {
  return (
    <g>
      {pickTimes.map((t) => (
        <line key={t} x1={x(t)} x2={x(t)} y1={top} y2={bottom} stroke={BLUE} strokeWidth={3}
          strokeDasharray="17,10" strokeDashoffset={10} />
      ))}
    </g>
  );
}

function WavePanel({ i }: { i: number }) {
  const left = LEFTS[i];
  const x = d3.scaleLinear().domain([0, 10]).range([left, left + PW]);
  const y = d3.scaleLinear().domain([-1, 1]).range([TOP_ROW.bottom, TOP_ROW.top]);
  const line = d3.line<P>().x((d) => x(d[0])).y((d) => y(d[1])).curve(d3.curveMonotoneX);
  const clip = `wave-clip-${i}`;
  return (
    <g>
      <defs>
        <clipPath id={clip}>
          <rect x={x(0)} y={y(1)} width={x(10) - x(0)} height={y(-1) - y(1)} />
        </clipPath>
      </defs>
      <g clipPath={`url(#${clip})`}>
        <path d={line(obsSets[i]) || undefined} fill="none" stroke="#000" strokeWidth={1} />
        <path d={line(synSets[i]) || undefined} fill="none" stroke={RED} strokeWidth={1} />
        <PickLines x={x} top={y(1)} bottom={y(-1)} />
      </g>
      <text x={x(0.1)} y={y(0.07)} fontSize={15} fill={RED}>{synMaxLabel}</text>
      <text x={x(0.05)} y={y(-0.2)} fontSize={15} fill="#000">{obsMaxLabel}</text>
      <text x={x(TITLE_T[i])} y={y(0.725)} fontSize={16.5} fill="#000">{compNames[i]}</text>
      <rect x={x(0)} y={y(1)} width={x(10) - x(0)} height={y(-1) - y(1)} fill="none" stroke={AXIS} strokeWidth={0.8} />
      <XTicks x={x} top={y(1)} bottom={y(-1)} />
      {ampTicks.map((v) => (
        <g key={v}>
          <line x1={x(0)} x2={x(0) + TL} y1={y(v)} y2={y(v)} stroke={AXIS} strokeWidth={0.8} />
          <line x1={x(10)} x2={x(10) - TL} y1={y(v)} y2={y(v)} stroke={AXIS} strokeWidth={0.8} />
          <text x={x(0) - 7} y={y(v)} dy="0.36em" textAnchor="end" fontSize={TICK_FS} fill={AXIS}>{fmt(v)}</text>
        </g>
      ))}
      {i === 0 && (
        <text transform={`translate(28,${(TOP_ROW.top + TOP_ROW.bottom) / 2}) rotate(-90)`} textAnchor="middle"
          fontSize={16} fill={AXIS}>Norm. Amp.</text>
      )}
    </g>
  );
}

function DiffPanel({ i }: { i: number }) {
  const left = LEFTS[i];
  const x = d3.scaleLinear().domain([0, 10]).range([left, left + PW]);
  const yTd = d3.scaleLinear().domain([-0.05, 0.05]).range([BOT_ROW.bottom, BOT_ROW.top]);
  const yCc = d3.scaleLinear().domain([0, 1]).range([BOT_ROW.bottom, BOT_ROW.top]);
  const tdLine = d3.line<P>().defined((d) => !isNaN(d[1])).x((d) => x(d[0])).y((d) => yTd(d[1]));
  const ccLine = d3.line<P>().x((d) => x(d[0])).y((d) => yCc(d[1]));
  const clip = `diff-clip-${i}`;
  const top = BOT_ROW.top;
  const bottom = BOT_ROW.bottom;
  return (
    <g>
      <defs>
        <clipPath id={clip}>
          <rect x={x(0)} y={top} width={x(10) - x(0)} height={bottom - top} />
        </clipPath>
      </defs>
      <g clipPath={`url(#${clip})`}>
        <path d={tdLine(tdSets[i]) || undefined} fill="none" stroke="#000" strokeWidth={1} />
        <path d={ccLine(ccSets[i]) || undefined} fill="none" stroke={RED} strokeWidth={1} />
        {fitSets[i].map((seg, k) => (
          <path key={k} d={tdLine(seg) || undefined} fill="none" stroke={RED} strokeWidth={1} />
        ))}
        <PickLines x={x} top={top} bottom={bottom} />
      </g>
      <line x1={x(0)} x2={x(10)} y1={top} y2={top} stroke={AXIS} strokeWidth={0.8} />
      <line x1={x(0)} x2={x(10)} y1={bottom} y2={bottom} stroke={AXIS} strokeWidth={0.8} />
      <line x1={x(0)} x2={x(0)} y1={top} y2={bottom} stroke={AXIS} strokeWidth={0.8} />
      <line x1={x(10)} x2={x(10)} y1={top} y2={bottom} stroke={RED} strokeWidth={0.8} />
      <XTicks x={x} top={top} bottom={bottom} />
      {tdTicks.map((v) => (
        <g key={v}>
          <line x1={x(0)} x2={x(0) + TL} y1={yTd(v)} y2={yTd(v)} stroke={AXIS} strokeWidth={0.8} />
          <text x={x(0) - 7} y={yTd(v)} dy="0.36em" textAnchor="end" fontSize={TICK_FS} fill={AXIS}>{fmt(v)}</text>
        </g>
      ))}
      {ccTicks.map((v) => (
        <g key={v}>
          <line x1={x(10)} x2={x(10) - TL} y1={yCc(v)} y2={yCc(v)} stroke={RED} strokeWidth={0.8} />
          <text x={x(10) + 4} y={yCc(v)} dy="0.36em" textAnchor="start" fontSize={TICK_FS} fill={RED}>{fmt(v)}</text>
        </g>
      ))}
      <text x={(x(0) + x(10)) / 2} y={489} textAnchor="middle" fontSize={LABEL_FS} fill={AXIS}>Time (s)</text>
      {i === 0 && (
        <text transform={`translate(21,${(top + bottom) / 2}) rotate(-90)`} textAnchor="middle"
          fontSize={LABEL_FS} fill={AXIS}>Time Difference</text>
      )}
      {i === 2 && (
        <text transform={`translate(1157,${(top + bottom) / 2}) rotate(-90)`} textAnchor="middle"
          fontSize={LABEL_FS} fill={RED}>CC Coef.</text>
      )}
    </g>
  );
}

export default function App() {
  return (
    <svg width={W} height={H} style={{ position: "absolute", left: 0, top: 0, background: "#fff" }}
      fontFamily={FONT}>
      {[0, 1, 2].map((i) => (
        <g key={i}>
          <WavePanel i={i} />
          <DiffPanel i={i} />
        </g>
      ))}
    </svg>
  );
}
